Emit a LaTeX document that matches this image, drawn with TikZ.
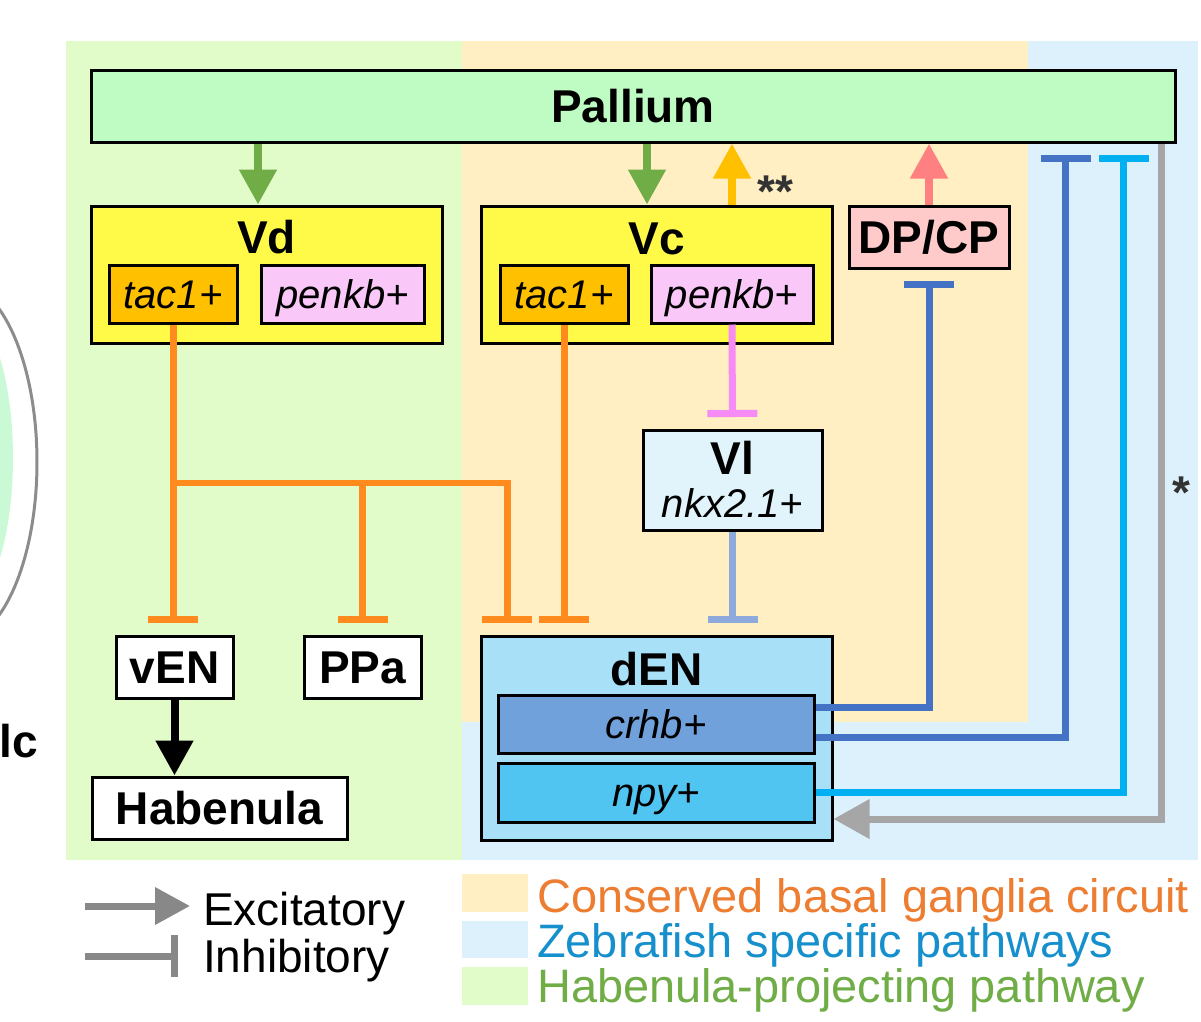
\documentclass[tikz,border=0pt]{standalone}
\usepackage{fontspec}
\setmainfont{Liberation Sans}
\usetikzlibrary{arrows.meta,calc}
\definecolor{greenbg}{HTML}{E1FBC9}
\definecolor{orangebg}{HTML}{FFEFC2}
\definecolor{bluebg}{HTML}{DCF1FB}
\definecolor{pallfill}{HTML}{BFFCC4}
\definecolor{yellowf}{HTML}{FFFA47}
\definecolor{tacf}{HTML}{FFC000}
\definecolor{penkf}{HTML}{F9C8F9}
\definecolor{dpf}{HTML}{FFCACA}
\definecolor{vlf}{HTML}{E1F4FC}
\definecolor{denf}{HTML}{A8E0F8}
\definecolor{crhbf}{HTML}{70A1DB}
\definecolor{npyf}{HTML}{50C5F1}
\definecolor{garr}{HTML}{70AD47}
\definecolor{yarr}{HTML}{FFC000}
\definecolor{sarr}{HTML}{FF8080}
\definecolor{olinec}{HTML}{FF8A1D}
\definecolor{plinec}{HTML}{F78BF5}
\definecolor{vlinec}{HTML}{8EA9DB}
\definecolor{dbluec}{HTML}{4472C4}
\definecolor{cbluec}{HTML}{00B0F0}
\definecolor{grayl}{HTML}{A6A6A6}
\definecolor{leggray}{HTML}{888888}
\definecolor{lorange}{HTML}{ED7D31}
\definecolor{lblue}{HTML}{168FCD}
\definecolor{lgreen}{HTML}{70AD47}
\definecolor{lcgreen}{HTML}{C9F9D5}
\definecolor{ellgray}{HTML}{8C8C8C}
\definecolor{stargray}{HTML}{333333}
\tikzset{
  box/.style={draw=black, line width=3pt, inner sep=0pt},
  bl/.style={font=\fontsize{46}{50}\selectfont\bfseries, text height=33pt, text depth=0pt, inner sep=0pt},
  itl/.style={font=\fontsize{40}{44}\selectfont\itshape, text height=28.6pt, text depth=0pt, inner sep=0pt},
  lg/.style={font=\fontsize{46}{50}\selectfont, inner sep=0pt},
  lgc/.style={font=\fontsize{46.9}{50}\selectfont, inner sep=0pt},
  exc/.style={line width=8pt, -{Triangle[width=36pt,length=35pt]}},
  inh/.style={line width=7pt, -{Bar[width=50pt]}, shorten >=11.5pt},
  plainln/.style={line width=7pt}
}
\begin{document}
\begin{tikzpicture}[x=1pt,y=-1pt]
\useasboundingbox (0,0) rectangle (1201,1021);
% backgrounds
\fill[greenbg] (66,41) rectangle (462,860);
\fill[bluebg] (462,41) rectangle (1198,860);
\fill[orangebg] (462,41) rectangle (1028,722);
% left partial structure
\fill[lcgreen] (-43,458) ellipse [x radius=56pt, y radius=156pt];
\draw[ellgray, line width=3pt] (-43,462) ellipse [x radius=80pt, y radius=180pt];
\node[bl, anchor=base east] (lc) at (38,757) {lc};
% boxes
\node[box, bl, fill=pallfill, minimum width=1084pt, minimum height=72pt] (pal) at (633,106) {Pallium};
\node[box, fill=yellowf, minimum width=351pt, minimum height=137pt] (vd) at (266.5,274.5) {};
\node[bl] (vdt) at (266.5,237) {Vd};
\node[box, itl, fill=tacf, minimum width=128pt, minimum height=58pt] (vdtac) at (173,294) {tac1+};
\node[box, itl, fill=penkf, minimum width=163pt, minimum height=58pt] (vdpenk) at (342.5,294) {penkb+};
\node[box, fill=yellowf, minimum width=351pt, minimum height=137pt] (vc) at (656.5,274.5) {};
\node[bl] (vct) at (656.5,238) {Vc};
\node[box, itl, fill=tacf, minimum width=128pt, minimum height=58pt] (vctac) at (564,294) {tac1+};
\node[box, itl, fill=penkf, minimum width=162pt, minimum height=58pt] (vcpenk) at (732,294) {penkb+};
\node[box, bl, fill=dpf, minimum width=160pt, minimum height=62pt] (dpcp) at (929,237) {DP/CP};
\node[box, fill=vlf, minimum width=179pt, minimum height=100pt] (vl) at (732.5,480) {};
\node[bl] (vlt) at (732.5,458) {Vl};
\node[itl] (vlg) at (732.5,503) {nkx2.1+};
\node[box, bl, fill=white, minimum width=117pt, minimum height=62pt] (ven) at (174.5,667) {vEN};
\node[box, bl, fill=white, minimum width=117pt, minimum height=62pt] (ppa) at (362.5,667) {PPa};
\node[box, bl, fill=white, minimum width=255pt, minimum height=62pt] (hab) at (219.5,808) {Habenula};
\node[box, fill=denf, minimum width=351pt, minimum height=204pt] (den) at (656.5,738) {};
\node[bl] (dent) at (656.5,668.5) {dEN};
\node[box, itl, fill=crhbf, minimum width=316pt, minimum height=58pt] (crhb) at (656,724) {crhb+};
\node[box, itl, fill=npyf, minimum width=316pt, minimum height=59pt] (npy) at (656,792.5) {npy+};
% excitatory
\draw[exc, garr] ([xshift=-8.5pt]vd.north |- pal.south) -- ([xshift=-8.5pt]vd.north);
\draw[exc, garr] ([xshift=-9.5pt]vc.north |- pal.south) -- ([xshift=-9.5pt]vc.north);
\draw[exc, yarr] (vcpenk.north |- vc.north) -- (vcpenk.north |- pal.south);
\draw[exc, sarr] (dpcp.north) -- (dpcp.north |- pal.south);
\draw[exc, black] (ven.south) -- (ven.south |- hab.north);
\node[font=\fontsize{46}{50}\selectfont\bfseries, text=stargray, inner sep=0pt, anchor=base] (st2) at (775,207) {**};
\node[font=\fontsize{46}{50}\selectfont\bfseries, text=stargray, inner sep=0pt, anchor=base] (st1) at (1181,508) {*};
% inhibitory orange
\coordinate (j1) at (173,483);
\coordinate (j2) at (507,483);
\draw[inh, olinec] (vdtac.south) -- (vdtac.south |- ven.north);
\draw[plainln, olinec, line width=6pt] (j1) -- (j2);
\draw[inh, olinec] (ppa.north |- j1) -- (ppa.north);
\draw[inh, olinec] ([xshift=-3pt]j2) -- (j2) -- (j2 |- den.north);
\draw[inh, olinec] (vctac.south) -- (vctac.south |- den.north);
\draw[inh, plinec] (vcpenk.south) -- (vl.north);
\draw[inh, vlinec] (vl.south) -- (vl.south |- den.north);
% zebrafish specific
\draw[inh, dbluec] ([yshift=17pt]crhb.east) -| (dpcp.south);
\draw[inh, dbluec] ([yshift=-13pt]crhb.east) -| ([xshift=-111pt]pal.south east);
\draw[inh, cbluec] (npy.east) -| ([xshift=-53pt]pal.south east);
\draw[grayl, line width=7pt, -{Triangle[width=38pt,length=36pt]}] ([xshift=-15pt]pal.south east) |- ([yshift=-81pt]den.east);
% legend
\coordinate (ea) at (85,906);
\coordinate (eb) at (190,906);
\coordinate (ia) at (85,956);
\coordinate (ib) at (178,956);
\draw[leggray, line width=7pt, -{Triangle[width=36pt,length=35pt]}] (ea) -- (eb);
\draw[leggray, line width=7pt, -{Bar[width=42pt]}] (ia) -- (ib);
\node[lg, anchor=base west] (lexc) at (203,925) {Excitatory};
\node[lg, anchor=base west] (linh) at (203,972) {Inhibitory};
\fill[orangebg] (462,874) rectangle (528,912);
\fill[bluebg] (462,921) rectangle (528,958);
\fill[greenbg] (462,967) rectangle (528,1005);
\node[lgc, anchor=base west, text=lorange] (l1) at (537,912) {Conserved basal ganglia circuit};
\node[lgc, anchor=base west, text=lblue] (l2) at (537,957) {Zebrafish specific pathways};
\node[lgc, anchor=base west, text=lgreen] (l3) at (537,1002) {Habenula-projecting pathway};
\end{tikzpicture}
\end{document}
